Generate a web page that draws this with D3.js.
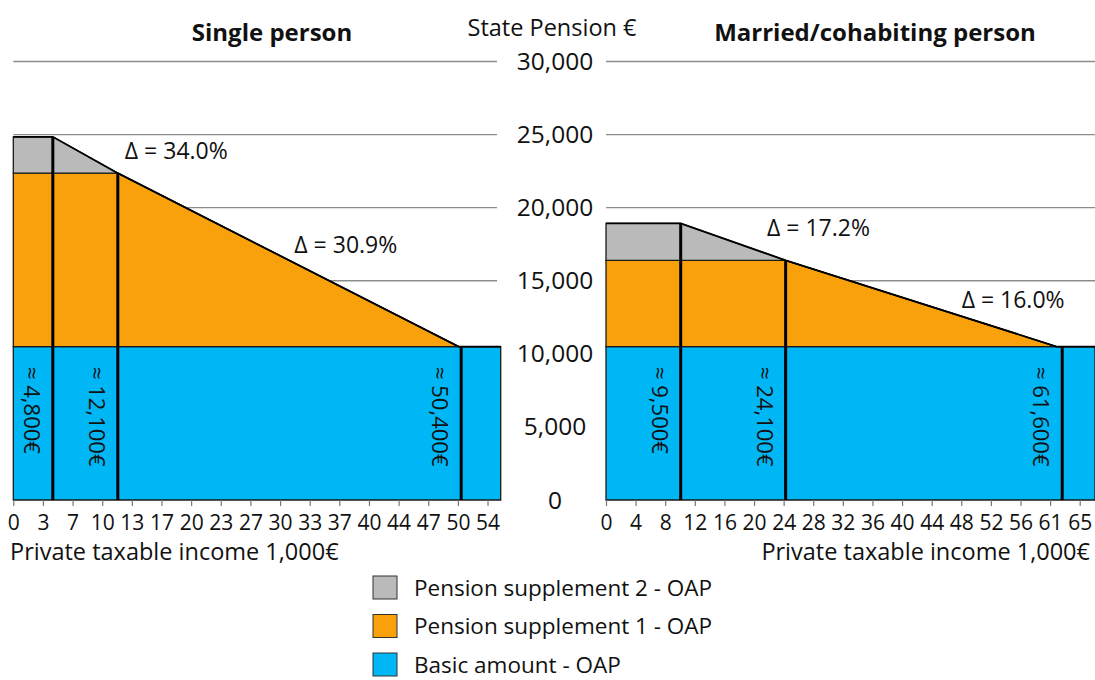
<!DOCTYPE html>
<html>
<head>
<meta charset="utf-8">
<script src="https://cdn.jsdelivr.net/npm/d3@7"></script>
<style>
  body { margin: 0; background: #fff; }
  svg { font-family: 'Open Sans', sans-serif; display: block; }
</style>
</head>
<body>
<svg width="1095" height="680"></svg>
<script>
// State pension (€) against private taxable income (1,000 €)
const yTicks = [0, 5000, 10000, 15000, 20000, 25000, 30000]

const singleTickLabels = [0, 3, 7, 10, 13, 17, 20, 23, 27, 30, 33, 37, 40, 44, 47, 50, 54]
const marriedTickLabels = [0, 4, 8, 12, 16, 20, 24, 28, 32, 36, 40, 44, 48, 52, 56, 61, 65]

// single person, stacked layers
const singleIncome = [0, 4.5, 11.9, 50.7, 55.5]
const singleBasic = [10500, 10500, 10500, 10500, 10500]
const singleSupp1 = [11860, 11860, 11860, 0, 0]
const singleSupp2 = [2490, 2490, 0, 0, 0]
const singleMarkers = [4.5, 11.9, 51.0]
const singleMarkerLabels = ['≈ 4,800€', '≈ 12,100€', '≈ 50,400€']
const singleDeltas = ['Δ = 34.0%', 'Δ = 30.9%']
const singleDeltaAt = [[12.7, 23900], [32.0, 17450]]

// married / cohabiting person
const marriedIncome = [0, 10.25, 24.65, 61.8, 67.1]
const marriedBasic = [10500, 10500, 10500, 10500, 10500]
const marriedSupp1 = [5900, 5900, 5900, 0, 0]
const marriedSupp2 = [2520, 2520, 0, 0, 0]
const marriedMarkers = [10.25, 24.65, 62.6]
const marriedMarkerLabels = ['≈ 9,500€', '≈ 24,100€', '≈ 61,600€']
const marriedDeltas = ['Δ = 17.2%', 'Δ = 16.0%']
const marriedDeltaAt = [[22.1, 18600], [48.8, 13700]]

const seriesNames = ['Pension supplement 2 - OAP', 'Pension supplement 1 - OAP', 'Basic amount - OAP']
const colors = { basic: '#00b7f6', supp1: '#f8a10b', supp2: '#bababa' }

const svg = d3.select('svg')
const y = d3.scaleLinear().domain([0, 30000]).range([500, 61.5])

function panel (opts) {
  const x = d3.scaleLinear().domain([0, opts.xMax]).range(opts.range)
  const g = svg.append('g')

  // gridlines
  g.selectAll('line.grid')
    .data(yTicks.filter(d => d > 0))
    .enter().append('line')
    .attr('class', 'grid')
    .attr('x1', opts.range[0]).attr('x2', opts.gridEnd)
    .attr('y1', d => y(d)).attr('y2', d => y(d))
    .attr('stroke', '#8c8c8c')
    .attr('stroke-width', 1.3)

  const rows = opts.income.map((v, i) => ({
    income: v, basic: opts.basic[i], supp1: opts.supp1[i], supp2: opts.supp2[i]
  }))
  const stack = d3.stack().keys(['basic', 'supp1', 'supp2'])(rows)
  const area = d3.area()
    .x(d => x(d.data.income))
    .y0(d => y(d[0]))
    .y1(d => y(d[1]))

  g.selectAll('path.layer')
    .data(stack)
    .enter().append('path')
    .attr('class', 'layer')
    .attr('d', area)
    .attr('fill', d => colors[d.key])
    .attr('stroke', '#1a1a1a')
    .attr('stroke-width', 1.3)
    .attr('stroke-linejoin', 'miter')

  // top edge drawn again a bit heavier
  const top = stack[2]
  g.append('path')
    .attr('d', d3.line().x(d => x(d.data.income)).y(d => y(d[1]))(top))
    .attr('fill', 'none')
    .attr('stroke', '#000')
    .attr('stroke-width', 1.8)

  // threshold markers
  const totals = rows.map(r => r.basic + r.supp1 + r.supp2)
  const totalAt = v => {
    const i = Math.max(1, d3.bisectLeft(opts.income, v))
    const t = (v - opts.income[i - 1]) / (opts.income[i] - opts.income[i - 1])
    return totals[i - 1] + (totals[i] - totals[i - 1]) * t
  }
  g.selectAll('line.marker')
    .data(opts.markers)
    .enter().append('line')
    .attr('class', 'marker')
    .attr('x1', d => x(d)).attr('x2', d => x(d))
    .attr('y1', y(0)).attr('y2', d => y(totalAt(d)))
    .attr('stroke', '#000')
    .attr('stroke-width', 3)

  g.selectAll('text.marker')
    .data(opts.markers)
    .enter().append('text')
    .attr('class', 'marker')
    .attr('transform', d => `translate(${x(d) - 29},367) rotate(90)`)
    .attr('font-size', 22)
    .attr('fill', '#111')
    .text((d, i) => opts.markerLabels[i])

  // x axis
  const step = opts.tickLabels[opts.tickLabels.length - 1] / (opts.tickLabels.length - 1)
  const axis = g.append('g')
    .attr('transform', `translate(0,${y(0)})`)
    .call(d3.axisBottom(x)
      .tickValues(opts.tickLabels.map((d, i) => i * step))
      .tickFormat((d, i) => opts.tickLabels[i])
      .tickSize(6)
      .tickSizeOuter(0))
  axis.select('.domain').remove()
  axis.selectAll('.tick line').attr('stroke', '#777').attr('stroke-width', 1.2)
  axis.selectAll('.tick text')
    .attr('font-size', 21)
    .attr('font-family', "'Open Sans', sans-serif")
    .attr('fill', '#111')
    .attr('dy', '1.0em')

  g.append('text')
    .attr('x', opts.xTitleX)
    .attr('y', 560)
    .attr('text-anchor', opts.xTitleAnchor)
    .attr('font-size', 23.5)
    .attr('fill', '#111')
    .text('Private taxable income 1,000€')

  // delta annotations
  g.selectAll('text.delta')
    .data(opts.deltas)
    .enter().append('text')
    .attr('class', 'delta')
    .attr('x', (d, i) => x(opts.deltaAt[i][0]))
    .attr('y', (d, i) => y(opts.deltaAt[i][1]))
    .attr('dy', '0.35em')
    .attr('font-size', 23)
    .attr('fill', '#111')
    .text(d => d)

  g.append('text')
    .attr('x', opts.titleX)
    .attr('y', 41)
    .attr('text-anchor', 'middle')
    .attr('font-size', 24)
    .attr('font-weight', 'bold')
    .attr('fill', '#111')
    .text(opts.title)
}

panel({
  title: 'Single person', titleX: 272,
  xMax: 55.5, range: [13.3, 500.7], gridEnd: 497,
  income: singleIncome, basic: singleBasic, supp1: singleSupp1, supp2: singleSupp2,
  markers: singleMarkers, markerLabels: singleMarkerLabels,
  deltas: singleDeltas, deltaAt: singleDeltaAt,
  tickLabels: singleTickLabels, xTitleX: 10, xTitleAnchor: 'start'
})

panel({
  title: 'Married/cohabiting person', titleX: 875,
  xMax: 67.1, range: [606, 1095], gridEnd: 1095,
  income: marriedIncome, basic: marriedBasic, supp1: marriedSupp1, supp2: marriedSupp2,
  markers: marriedMarkers, markerLabels: marriedMarkerLabels,
  deltas: marriedDeltas, deltaAt: marriedDeltaAt,
  tickLabels: marriedTickLabels, xTitleX: 1090, xTitleAnchor: 'end'
})

// shared y axis labels between the panels
svg.append('g')
  .selectAll('text')
  .data(yTicks)
  .enter().append('text')
  .attr('x', 555)
  .attr('y', d => y(d))
  .attr('dy', '0.35em')
  .attr('text-anchor', 'middle')
  .attr('font-size', 24.5)
  .attr('fill', '#111')
  .text(d => d3.format(',')(d))

svg.append('text')
  .attr('x', 552)
  .attr('y', 36)
  .attr('text-anchor', 'middle')
  .attr('font-size', 23.5)
  .attr('fill', '#111')
  .text('State Pension €')

// legend
const legendColors = [colors.supp2, colors.supp1, colors.basic]
const legend = svg.append('g')
  .selectAll('g')
  .data(seriesNames)
  .enter().append('g')
  .attr('transform', (d, i) => `translate(373,${576 + i * 38.5})`)
legend.append('rect')
  .attr('width', 24).attr('height', 23)
  .attr('fill', (d, i) => legendColors[i])
  .attr('stroke', '#333')
  .attr('stroke-width', 1)
legend.append('text')
  .attr('x', 41)
  .attr('y', 12)
  .attr('dy', '0.35em')
  .attr('font-size', 22.5)
  .attr('fill', '#111')
  .text(d => d)
</script>
</body>
</html>
